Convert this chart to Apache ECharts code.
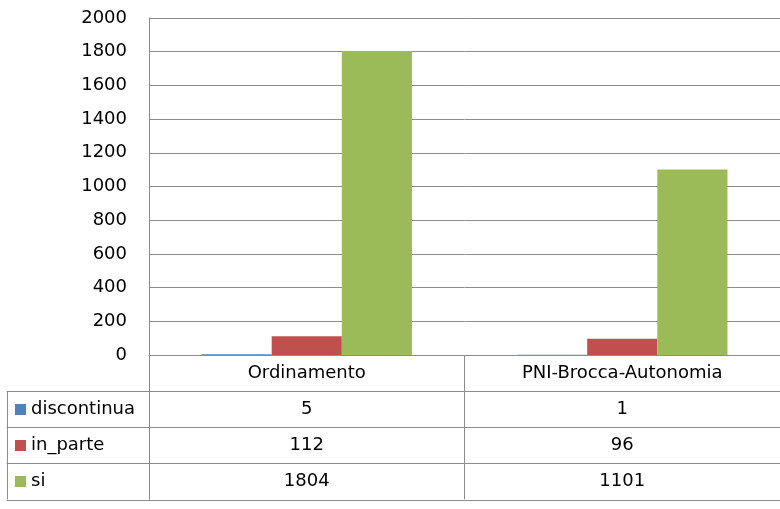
<!DOCTYPE html>
<html>
<head>
<meta charset="utf-8">
<script src="https://cdn.jsdelivr.net/npm/echarts@6/dist/echarts.min.js"></script>
<style>
html,body{margin:0;padding:0;background:#fff;}
#main{width:780px;height:509px;}
</style>
</head>
<body>
<div id="main"></div>
<script>
// dati
var categories = ['Ordinamento', 'PNI-Brocca-Autonomia'];
var discontinua = [5, 1];
var inParte = [112, 96];
var si = [1804, 1101];
var seriesNames = ['discontinua', 'in_parte', 'si'];
var yTicks = [0, 200, 400, 600, 800, 1000, 1200, 1400, 1600, 1800, 2000];

var colors = ['#4f81bd', '#c0504d', '#9bbb59', '#000000', '#8c8c8c']; // blu rosso verde testo linee
var rows = [discontinua, inParte, si];
var font = 'DejaVu Sans';

var myChart = echarts.init(document.getElementById('main'));

// righe della tabella dati: un asse per riga
function rowAxis(grid, offset, data, values, showTick) {
    return {
        type: 'category',
        gridIndex: grid,
        position: 'bottom',
        offset: offset,
        data: data,
        axisLine: {show: true, onZero: false, lineStyle: {color: colors[4], width: 1}},
        axisTick: {show: showTick, length: 36, lineStyle: {color: colors[4]}},
        axisLabel: {
            show: !!values,
            margin: 18,
            verticalAlign: 'middle',
            color: colors[3],
            fontFamily: font,
            fontSize: 18,
            formatter: function (v, i) { return values ? String(values[i]) : ''; }
        },
        splitLine: {show: false}
    };
}

var xAxes = [{
    type: 'category',
    gridIndex: 0,
    data: categories,
    axisLine: {show: true, onZero: false, lineStyle: {color: colors[4]}},
    axisTick: {show: true, length: 36, lineStyle: {color: colors[4]}},
    axisLabel: {margin: 18, verticalAlign: 'middle', color: colors[3], fontFamily: font, fontSize: 18}
}];
xAxes.push(rowAxis(0, 36.5, categories, discontinua, true));
xAxes.push(rowAxis(0, 72.5, categories, inParte, true));
xAxes.push(rowAxis(0, 108.5, categories, si, true));
xAxes.push(rowAxis(0, 145, categories, null, false));
// colonna intestazioni righe
xAxes.push(rowAxis(1, 36.5, [''], null, true));
xAxes.push(rowAxis(1, 72.5, [''], null, true));
xAxes.push(rowAxis(1, 108.5, [''], null, true));
xAxes.push(rowAxis(1, 145, [''], null, false));

var option = {
    animation: false,
    grid: [
        {left: 149, right: 0, top: 18, bottom: 154},
        {left: 7, width: 142, top: 18, bottom: 154}
    ],
    legend: {
        orient: 'vertical',
        left: 15,
        top: 391.5,
        padding: 0,
        itemGap: 0,
        itemWidth: 11,
        itemHeight: 11,
        icon: 'rect',
        selectedMode: false,
        data: seriesNames,
        textStyle: {fontFamily: font, fontSize: 18, color: colors[3], lineHeight: 36}
    },
    xAxis: xAxes,
    yAxis: [{
        type: 'value',
        gridIndex: 0,
        min: yTicks[0],
        max: yTicks[yTicks.length - 1],
        interval: 200,
        axisLine: {show: true, lineStyle: {color: colors[4]}},
        axisTick: {show: false},
        splitLine: {show: true, lineStyle: {color: colors[4], width: 1}},
        axisLabel: {
            margin: 22, color: colors[3], fontFamily: font, fontSize: 18,
            formatter: function (v) { return String(v); }
        }
    }, {
        type: 'value',
        gridIndex: 1,
        min: 0,
        max: 1,
        show: false
    }],
    series: seriesNames.map(function (name, i) {
        return {
            name: name,
            type: 'bar',
            xAxisIndex: 0,
            yAxisIndex: 0,
            data: rows[i],
            barGap: 0,
            barCategoryGap: '33.3%',
            itemStyle: {color: colors[i]}
        };
    })
};
myChart.setOption(option);
</script>
</body>
</html>
